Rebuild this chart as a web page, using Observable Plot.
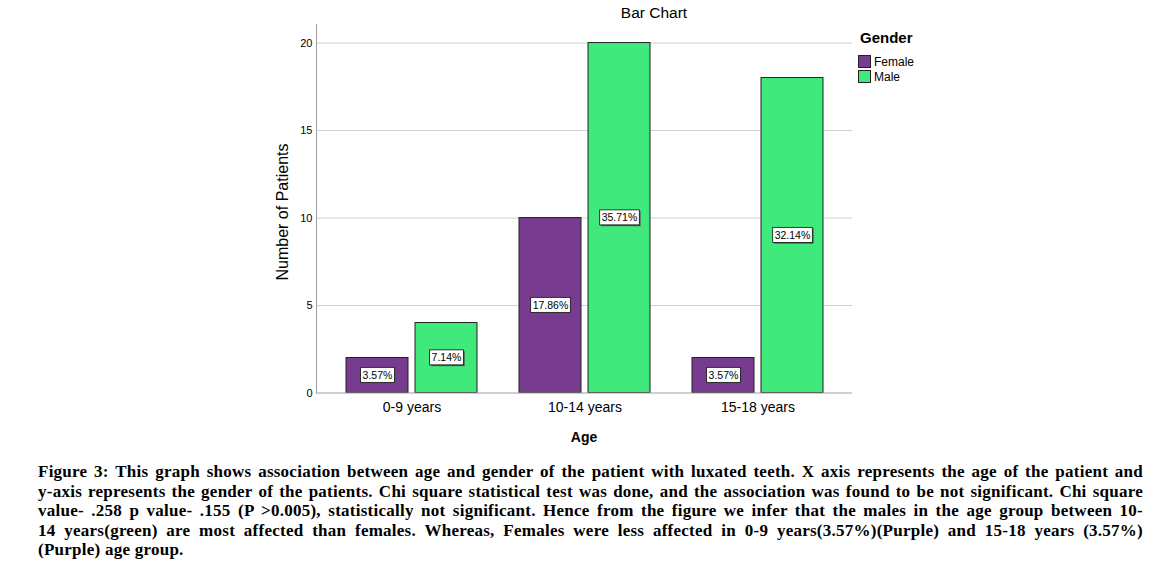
<!DOCTYPE html>
<html>
<head>
<meta charset="utf-8">
<script src="https://cdn.jsdelivr.net/npm/d3@7"></script>
<script src="https://cdn.jsdelivr.net/npm/@observablehq/plot@0.6"></script>
<style>
  html, body { margin: 0; padding: 0; background: #fff; }
  #wrap { position: relative; width: 1169px; height: 581px; font-family: "Liberation Sans", Arial, sans-serif; color: #000; }
  #chart { position: absolute; left: 0; top: 0; }
  .abs { position: absolute; white-space: nowrap; }
  #title { left: 654px; top: 13px; transform: translate(-50%, -50%); font-size: 15.5px; }
  #ylabel { left: 283px; top: 212px; transform: translate(-50%, -50%) rotate(-90deg); font-size: 16px; }
  #xlabel { left: 584px; top: 437px; transform: translate(-50%, -50%); font-size: 14px; font-weight: bold; }
  #legend { left: 858px; top: 29px; }
  #legend .lt { font-size: 15px; font-weight: bold; margin: 0 0 7px 2px; line-height: 18px; }
  #legend .item { display: flex; align-items: center; height: 15px; font-size: 12px; }
  #legend .sw { width: 11px; height: 11px; border: 1px solid #222; margin-right: 3px; }
  #caption { position: absolute; left: 38px; top: 462px; width: 1105px; font-family: "Liberation Serif", "Times New Roman", serif; font-weight: bold; font-size: 17px; line-height: 19.5px; }
  #caption div { text-align: justify; text-align-last: justify; letter-spacing: 0.25px; }
  #caption div.last { text-align: left; text-align-last: left; }
</style>
</head>
<body>
<div id="wrap">
  <div id="chart"></div>
  <div id="title" class="abs">Bar Chart</div>
  <div id="ylabel" class="abs">Number of Patients</div>
  <div id="xlabel" class="abs">Age</div>
  <div id="legend" class="abs"></div>
  <div id="caption"></div>
</div>
<script>
// ---- data ----
const ages = ["0-9 years", "10-14 years", "15-18 years"];
const genders = ["Female", "Male"];
const femaleCounts = [2, 10, 2];
const maleCounts = [4, 20, 18];
const femalePct = ["3.57%", "17.86%", "3.57%"];
const malePct = ["7.14%", "35.71%", "32.14%"];
const yTicks = [0, 5, 10, 15, 20];
const gridTicks = [5, 10, 15, 20];
const genderColors = ["#773b8f", "#40e97c"];
const captionLines = [
  "Figure 3: This graph shows association between age and gender of the patient with luxated teeth. X axis represents the age of the patient and",
  "y-axis represents the gender of the patients. Chi square statistical test was done, and the association was found to be not significant. Chi square",
  "value- .258 p value- .155 (P >0.005), statistically not significant. Hence from the figure we infer that the males in the age group between 10-",
  "14 years(green) are most affected than females. Whereas, Females were less affected in 0-9 years(3.57%)(Purple) and 15-18 years (3.57%)",
  "(Purple) age group."
];

const rows = [];
ages.forEach((a, i) => {
  rows.push({age: a, gender: "Female", count: femaleCounts[i], pct: femalePct[i]});
  rows.push({age: a, gender: "Male", count: maleCounts[i], pct: malePct[i]});
});

const firstAge = ages[0], lastAge = ages[ages.length - 1];
const midAges = ages.slice(1, -1);
const gridRows = (list) => list.flatMap(a => gridTicks.map(v => ({age: a, v})));
const baseRows = (list) => list.map(a => ({age: a, v: 0}));

const plot = Plot.plot({
  width: 1169,
  height: 455,
  marginLeft: 325,
  marginRight: 325,
  marginTop: 24,
  marginBottom: 62.5,
  style: {fontFamily: "'Liberation Sans', Arial, sans-serif", background: "transparent"},
  fx: {domain: ages, paddingInner: 0, paddingOuter: 0, label: null},
  x: {domain: genders, paddingInner: 0.101, paddingOuter: 0.304, axis: null},
  y: {domain: [0, 21.06], ticks: yTicks, label: null},
  color: {domain: genders, range: genderColors},
  marks: [
    Plot.ruleY(gridRows([firstAge]), {fx: "age", y: "v", stroke: "#cfcfcf", insetLeft: -9}),
    Plot.ruleY(gridRows(midAges), {fx: "age", y: "v", stroke: "#cfcfcf"}),
    Plot.ruleY(gridRows([lastAge]), {fx: "age", y: "v", stroke: "#cfcfcf", insetRight: -8}),
    Plot.frame({anchor: "left", facetAnchor: "left", dx: -9, stroke: "#a0a0a0"}),
    Plot.barY(rows, {fx: "age", x: "gender", y: "count", fill: "gender", stroke: "#222", strokeWidth: 1}),
    Plot.ruleY(baseRows([firstAge]), {fx: "age", y: "v", stroke: "#a0a0a0", insetLeft: -9}),
    Plot.ruleY(baseRows(midAges), {fx: "age", y: "v", stroke: "#a0a0a0"}),
    Plot.ruleY(baseRows([lastAge]), {fx: "age", y: "v", stroke: "#a0a0a0", insetRight: -8}),
    Plot.text(rows, {fx: "age", x: "gender", y: d => d.count / 2, text: "pct", fontSize: 10.5, fill: "#000"}),
    Plot.axisY({ticks: yTicks, tickSize: 0, tickPadding: 13, fontSize: 11, label: null}),
    Plot.axisFx({anchor: "bottom", tickSize: 0, tickPadding: 9, fontSize: 14, label: null})
  ]
});
document.getElementById("chart").appendChild(plot);

// boxed labels behind percentage texts
plot.querySelectorAll("text").forEach(t => {
  if (!/%$/.test(t.textContent)) return;
  const b = t.getBBox();
  const padX = 2, padY = 1.5;
  const tr = t.getAttribute("transform");
  const mk = (dx, dy, fill, stroke) => {
    const r = document.createElementNS("http://www.w3.org/2000/svg", "rect");
    r.setAttribute("x", b.x - padX + dx);
    r.setAttribute("y", b.y - padY + dy);
    r.setAttribute("width", b.width + 2 * padX);
    r.setAttribute("height", b.height + 2 * padY);
    r.setAttribute("fill", fill);
    if (stroke) { r.setAttribute("stroke", stroke); r.setAttribute("stroke-width", 0.8); }
    if (tr) r.setAttribute("transform", tr);
    t.parentNode.insertBefore(r, t);
  };
  mk(1.3, 1.3, "#555", null);
  mk(0, 0, "#fff", "#111");
});

// legend
const lg = document.getElementById("legend");
lg.innerHTML = '<div class="lt">Gender</div>' + genders.map((g, i) =>
  `<div class="item"><span class="sw" style="background:${genderColors[i]}"></span>${g}</div>`).join("");

// caption
const cap = document.getElementById("caption");
cap.innerHTML = captionLines.map((l, i) =>
  `<div class="${i === captionLines.length - 1 ? "last" : ""}">${l}</div>`).join("");
// make sure each line stays on one line
cap.querySelectorAll("div").forEach(d => {
  let ls = 0.25;
  while (d.getBoundingClientRect().height > 25 && ls > -1) {
    ls -= 0.05;
    d.style.letterSpacing = ls + "px";
  }
});
</script>
</body>
</html>
